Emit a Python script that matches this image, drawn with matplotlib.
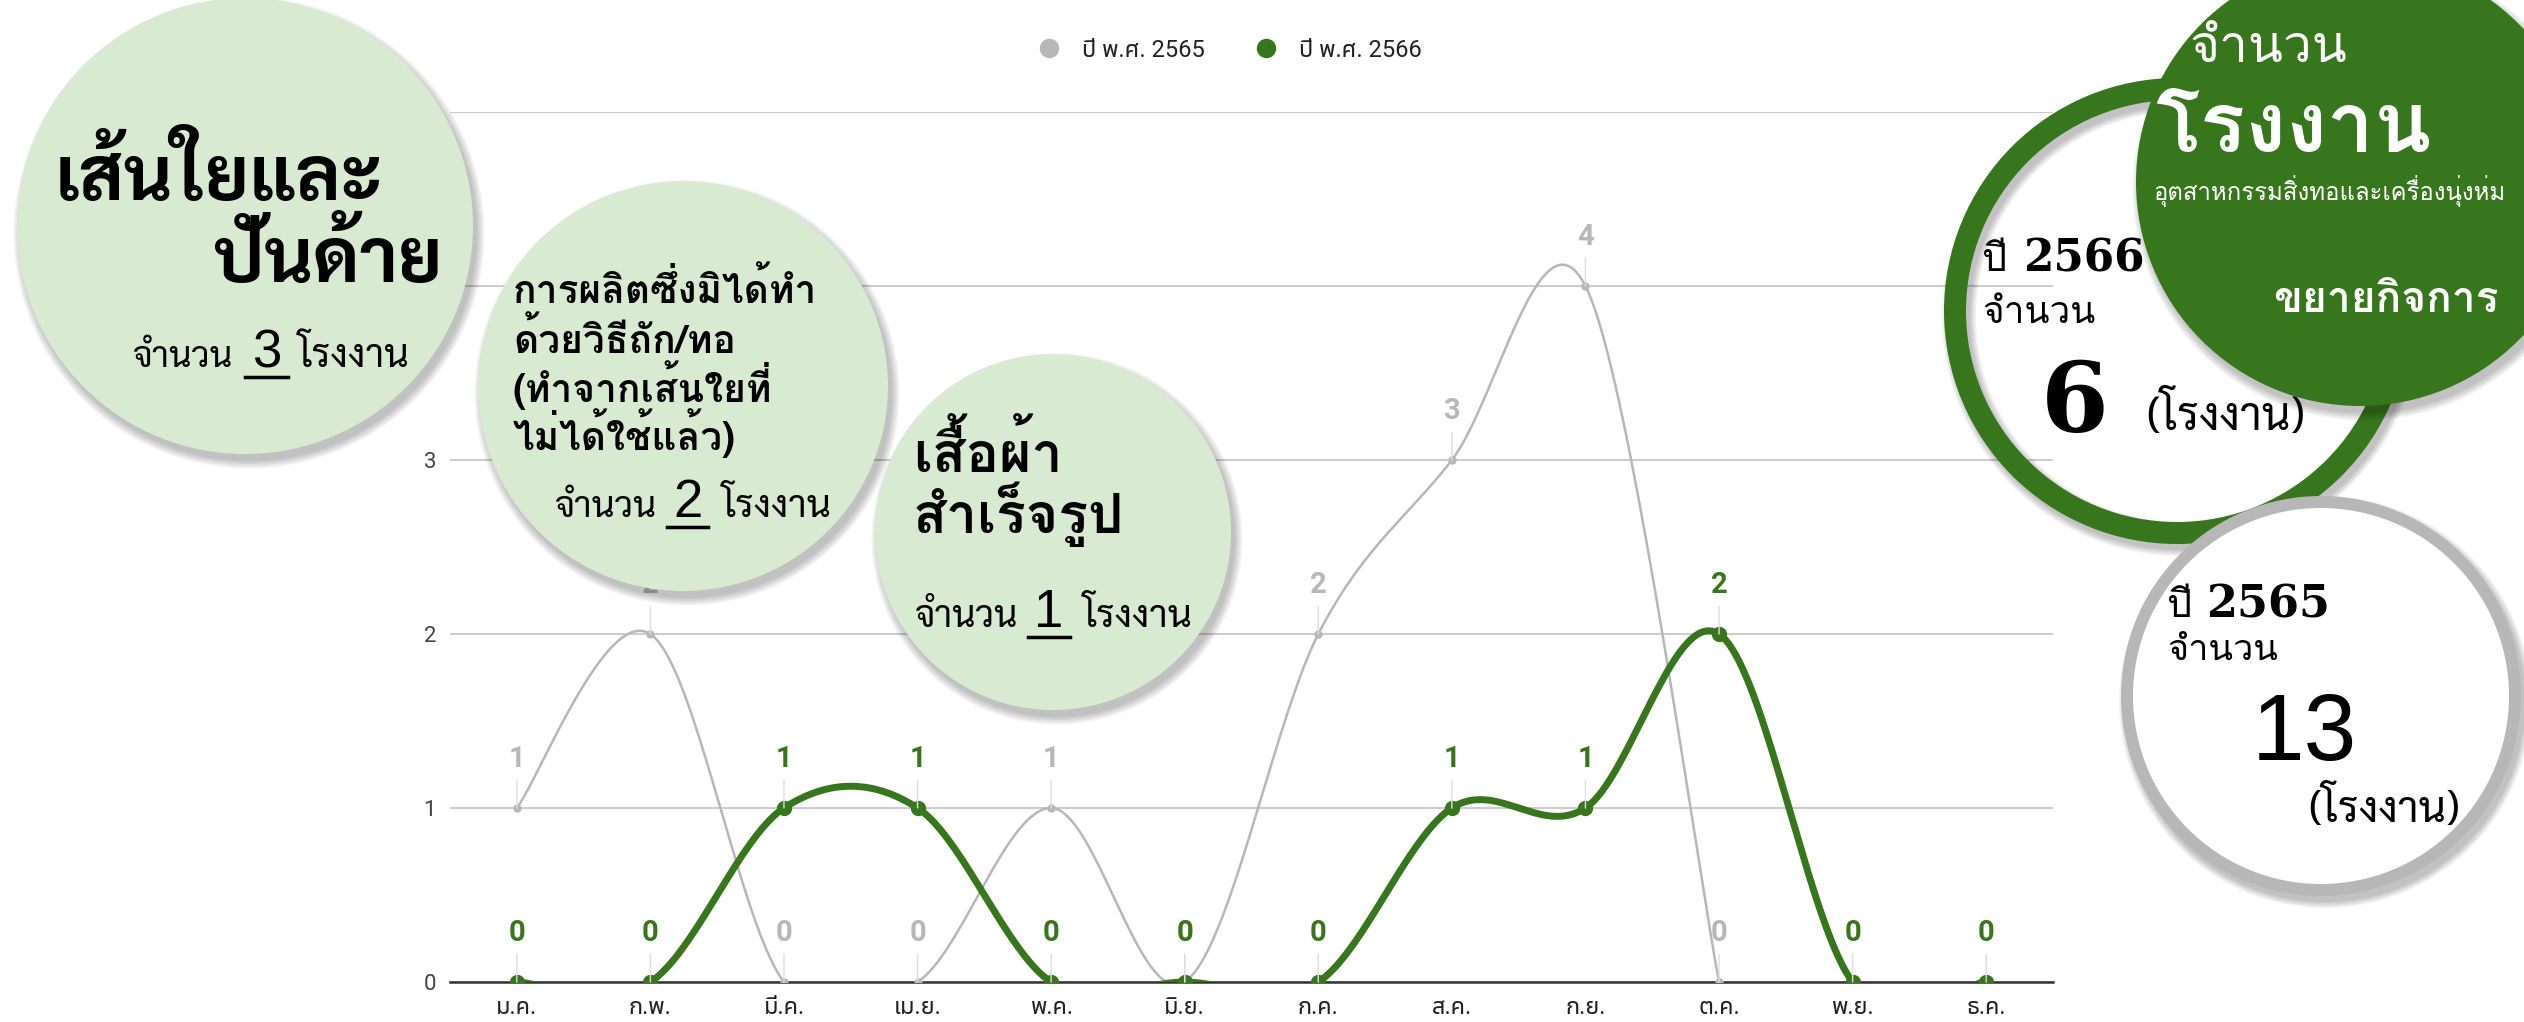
import numpy as np
import matplotlib
matplotlib.use("Agg")
import matplotlib.pyplot as plt
from matplotlib.patches import Ellipse
from matplotlib.lines import Line2D

plt.rcParams['font.family'] = ['Roboto', 'Noto Sans Thai UI']

# data
months = ["ม.ค.", "ก.พ.", "มี.ค.", "เม.ย.", "พ.ค.", "มิ.ย.",
          "ก.ค.", "ส.ค.", "ก.ย.", "ต.ค.", "พ.ย.", "ธ.ค."]
y2565 = [1, 2, 0, 0, 1, 0, 2, 3, 4, 0, None, None]
y2566 = [0, 0, 1, 1, 0, 0, 0, 1, 1, 2, 0, 0]
names = ["ปี พ.ศ. 2565", "ปี พ.ศ. 2566"]
yticks = ["0", "1", "2", "3", "", ""]   # 4 and 5 sit under the big circle

GRAY = "#b7b7b7"
GREEN = "#38761d"
PALE = "#d9ead3"
W, H = 2524, 1022


def smooth(xs, ys, n=40):
    # catmull-rom style curve like google charts "function" curves
    px, py = [], []
    m = len(xs)
    t = np.linspace(0, 1, n)
    for i in range(m - 1):
        x0, y0 = xs[max(i - 1, 0)], ys[max(i - 1, 0)]
        x1, y1 = xs[i], ys[i]
        x2, y2 = xs[i + 1], ys[i + 1]
        x3, y3 = xs[min(i + 2, m - 1)], ys[min(i + 2, m - 1)]
        c1x, c1y = x1 + (x2 - x0) / 6, y1 + (y2 - y0) / 6
        c2x, c2y = x2 - (x3 - x1) / 6, y2 - (y3 - y1) / 6
        px += list((1-t)**3*x1 + 3*(1-t)**2*t*c1x + 3*(1-t)*t**2*c2x + t**3*x2)
        py += list((1-t)**3*y1 + 3*(1-t)**2*t*c1y + 3*(1-t)*t**2*c2y + t**3*y2)
    return px, py


fig = plt.figure(figsize=(W / 100, H / 100), dpi=100)
ax = fig.add_axes([450 / W, 1 - 982 / H, (2053 - 450) / W, (982 - 112) / H])
ax.set_xlim(-0.5, 11.5)
ax.set_ylim(0, 5)
for s in ax.spines.values():
    s.set_visible(False)
ax.set_yticks(range(6))
ax.set_yticklabels(yticks, fontsize=16, color="#444444")
ax.set_xticks(range(12))
ax.set_xticklabels(months, fontsize=17, color="#222222")
ax.tick_params(length=0)
ax.tick_params(axis="x", pad=10)
ax.tick_params(axis="y", pad=10)
ax.yaxis.grid(True, color="#cccccc", lw=1.5)
ax.set_axisbelow(True)
ax.axhline(0, color="#333333", lw=1.8, clip_on=False, zorder=1)

series = [(y2565, GRAY, 1.8, 5), (y2566, GREEN, 5.0, 10)]
for vals, col, lw, ms in series:
    xs = [i for i, v in enumerate(vals) if v is not None]
    ys = [v for v in vals if v is not None]
    cx, cy = smooth(xs, ys)
    ax.plot(cx, cy, color=col, lw=lw, solid_capstyle="round", zorder=3)
    ax.plot(xs, ys, "o", color=col, ms=ms, zorder=4)
    for x, y in zip(xs, ys):
        ax.annotate(str(y), (x, y), xytext=(0, 35), textcoords="offset points",
                    ha="center", va="center", fontsize=21, fontweight="bold",
                    color=col, zorder=5,
                    arrowprops=dict(arrowstyle="-", color="#dddddd", lw=1,
                                    shrinkA=3, shrinkB=0))

handles = [Line2D([], [], marker="o", ls="", color=GRAY, ms=13),
           Line2D([], [], marker="o", ls="", color=GREEN, ms=13)]
leg = fig.legend(handles, names, loc="center", bbox_to_anchor=(0.4847, 0.951),
                 ncol=2, frameon=False, fontsize=17, handletextpad=0.4,
                 columnspacing=1.6)
for t in leg.get_texts():
    t.set_color("#222222")

# decoration layer in pixel units
ov = fig.add_axes([0, 0, 1, 1], zorder=5)
ov.set_xlim(0, W)
ov.set_ylim(H, 0)
ov.axis("off")
renderer = fig.canvas.get_renderer()


def fit_text(x, y, s, width, ha="left", **kw):
    t = ov.text(x, y, s, fontsize=20, ha=ha, va="baseline", **kw)
    w = t.get_window_extent(renderer).width
    t.set_fontsize(20 * width / w)
    return t.get_fontsize()


def disc(cx, cy, r, col):
    for k in range(6):
        ov.add_patch(Ellipse((cx + 4, cy + 7), 2 * (r + k * 1.5), 2 * (r + k * 1.5),
                             color="black", alpha=0.045, lw=0))
    ov.add_patch(Ellipse((cx, cy), 2 * r, 2 * r, color=col, lw=0))


def ring(cx, cy, r, lw, col, face="none"):
    for k in range(5):
        ov.add_patch(Ellipse((cx + 4, cy + 6), 2 * r, 2 * r, facecolor="none",
                             edgecolor="black", alpha=0.05, lw=(lw + 3 * k) / 1.389))
    ov.add_patch(Ellipse((cx, cy), 2 * r, 2 * r, facecolor=face, edgecolor=col,
                         lw=lw / 1.389))


def count_line(x1, w1, x2, w2, x3, w3, base, digit):
    fit_text(x1, base, "จำนวน", w1, family="Sarabun")
    ov.text((x2 + x2 + w2) / 2, base, digit, fontsize=38, ha="center",
            va="baseline", family="Liberation Sans")
    ov.plot([x2, x2 + w2], [base + 10, base + 10], color="black", lw=2.5)
    fit_text(x3, base, "โรงงาน", w3, family="Sarabun")


# circle 1
disc(245, 226, 228, PALE)
fs = fit_text(55, 200, "เส้นใยและ", 328, family="Sarabun", fontweight="bold")
ov.text(442, 282, "ปั่นด้าย", fontsize=fs, ha="right", va="baseline",
        family="Sarabun", fontweight="bold")
count_line(133, 100, 245, 43, 298, 112, 367, "3")

# circle 2
disc(683, 386, 205, PALE)
fs = fit_text(513, 303, "การผลิตซึ่งมิได้ทำ", 304, family="Loma", fontweight="bold")
for yy, s in [(353, "ด้วยวิธีถัก/ทอ"), (402, "(ทำจากเส้นใยที่"), (450, "ไม่ได้ใช้แล้ว)")]:
    ov.text(513, yy, s, fontsize=fs, va="baseline", family="Loma", fontweight="bold")
count_line(555, 102, 667, 41, 722, 110, 517, "2")

# circle 3
disc(1053, 532, 178, PALE)
fs = fit_text(913, 533, "สำเร็จรูป", 212, family="Loma", fontweight="bold")
ov.text(913, 472, "เสื้อผ้า", fontsize=fs, va="baseline", family="Loma",
        fontweight="bold")
count_line(915, 103, 1028, 42, 1083, 110, 627, "1")

# green ring, year 2566
ring(2177, 311, 222, 22, GREEN)
fit_text(1982, 271, "ปี", 25, family="Loma")
fit_text(2023, 271, "2566", 122, family="DejaVu Serif", fontweight="bold")
fit_text(1982, 323, "จำนวน", 113, family="Loma")
fit_text(2041, 432, "6", 68, family="DejaVu Serif", fontweight="bold")
fit_text(2146, 430, "(โรงงาน)", 159, family="Sarabun")

# green filled circle
disc(2360, 182, 224, GREEN)
fit_text(2190, 62, "จำนวน", 158, family="Loma", color="white")
fit_text(2155, 152, "โรงงาน", 277, family="Loma", fontweight="bold", color="white")
fit_text(2153, 200, "อุตสาหกรรมสิ่งทอและเครื่องนุ่งห่ม", 352, family="Loma",
         color="white")
fit_text(2273, 312, "ขยายกิจการ", 225, family="Loma", fontweight="bold",
         color="white")

# gray ring, year 2565
ring(2321, 696, 194, 12, GRAY, face="white")
fit_text(2167, 617, "ปี", 25, family="Loma")
fit_text(2206, 617, "2565", 124, family="DejaVu Serif", fontweight="bold")
fit_text(2167, 660, "จำนวน", 111, family="Loma")
ov.text(2304, 760, "13", fontsize=68, ha="center", va="baseline",
        family="Liberation Sans")
fit_text(2308, 822, "(โรงงาน)", 152, family="Sarabun")

fig.savefig("out.png", dpi=100)
